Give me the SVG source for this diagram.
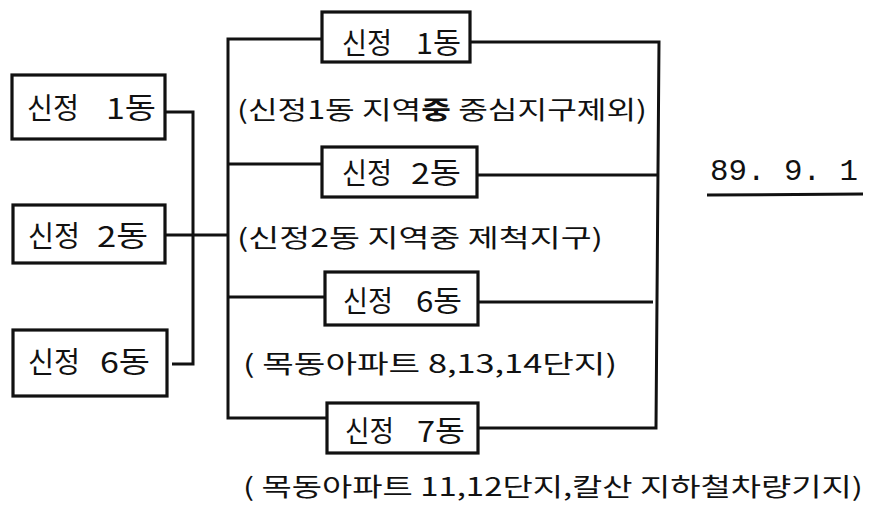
<svg xmlns="http://www.w3.org/2000/svg" width="869" height="506" viewBox="0 0 869 506">
<style>
.box{fill:none;stroke:#111;stroke-width:3.2}
.ln{fill:none;stroke:#111;stroke-width:3}
.t{font-family:"Noto Sans CJK KR","Noto Sans",sans-serif;font-size:29px;fill:#111}
.a{font-family:"Noto Sans CJK KR","Noto Sans",sans-serif;font-size:25px;fill:#111}
.d{font-family:"Liberation Mono","DejaVu Sans Mono",monospace;font-size:29px;fill:#111}
</style>
<rect width="869" height="506" fill="#fff"/>
<g id="connectors">
<polyline class="ln" points="165,112 193,112 193,364 172,364"/>
<line class="ln" x1="165" y1="235" x2="228" y2="235"/>
<polyline class="ln" points="322,39 228,39 228,418 327,418"/>
<line class="ln" x1="228" y1="164" x2="322" y2="164"/>
<line class="ln" x1="228" y1="297" x2="325" y2="297"/>
<polyline class="ln" points="470,42 659,42 656,428 478,428"/>
<line class="ln" x1="477" y1="175" x2="659" y2="175"/>
<line class="ln" x1="478" y1="302" x2="653" y2="302"/>
</g>
<g id="L1"><rect class="box" x="12" y="75" width="153" height="64"/><text class="t" x="27" y="119" textLength="52" lengthAdjust="spacingAndGlyphs">신정</text><text class="t" x="106" y="119" textLength="50" lengthAdjust="spacingAndGlyphs">1동</text></g>
<g id="L2"><rect class="box" x="13" y="205" width="152" height="58"/><text class="t" x="28" y="247" textLength="52" lengthAdjust="spacingAndGlyphs">신정</text><text class="t" x="97" y="247" textLength="51" lengthAdjust="spacingAndGlyphs">2동</text></g>
<g id="L6"><rect class="box" x="13" y="330" width="154" height="66"/><text class="t" x="28" y="373" textLength="52" lengthAdjust="spacingAndGlyphs">신정</text><text class="t" x="100" y="373" textLength="50" lengthAdjust="spacingAndGlyphs">6동</text></g>
<g id="R1"><rect class="box" x="322" y="12" width="148" height="50"/><text class="t" x="342" y="54" textLength="50" lengthAdjust="spacingAndGlyphs">신정</text><text class="t" x="416" y="54" textLength="45" lengthAdjust="spacingAndGlyphs">1동</text></g>
<g id="R2"><rect class="box" x="322" y="147" width="155" height="50"/><text class="t" x="342" y="184" textLength="50" lengthAdjust="spacingAndGlyphs">신정</text><text class="t" x="411" y="184" textLength="50" lengthAdjust="spacingAndGlyphs">2동</text></g>
<g id="R6"><rect class="box" x="325" y="272" width="153" height="53"/><text class="t" x="343" y="312" textLength="50" lengthAdjust="spacingAndGlyphs">신정</text><text class="t" x="416" y="312" textLength="46" lengthAdjust="spacingAndGlyphs">6동</text></g>
<g id="R7"><rect class="box" x="327" y="403" width="151" height="50"/><text class="t" x="345" y="442" textLength="49" lengthAdjust="spacingAndGlyphs">신정</text><text class="t" x="417" y="442" textLength="48" lengthAdjust="spacingAndGlyphs">7동</text></g>
<g id="notes">
<text class="a" x="237" y="119" textLength="410" lengthAdjust="spacingAndGlyphs">(신정1동 지역<tspan font-weight="bold">중</tspan> 중심지구제외)</text>
<text class="a" x="237" y="247" textLength="366" lengthAdjust="spacingAndGlyphs">(신정2동 지역중 제척지구)</text>
<text class="a" x="243" y="373" textLength="374" lengthAdjust="spacingAndGlyphs">( 목동아파트 8,13,14단지)</text>
<text class="a" x="243" y="496" textLength="620" lengthAdjust="spacingAndGlyphs">( 목동아파트 11,12단지,칼산 지하철차량기지)</text>
</g>
<g id="date">
<text class="d" x="710" y="180" textLength="148" lengthAdjust="spacingAndGlyphs">89. 9. 1</text>
<line class="ln" x1="707" y1="195" x2="863" y2="194"/>
</g>
</svg>
